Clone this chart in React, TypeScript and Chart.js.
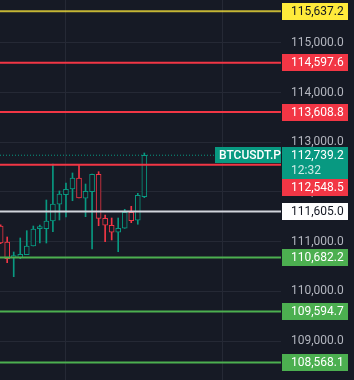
import { useEffect, useRef } from 'react';
import { Chart, registerables } from 'chart.js';

Chart.register(...registerables);

// ---- data ----
const opens = [111315, 110993, 110680, 110678, 110738, 110913, 111261, 111261, 111416, 111752, 111945, 112060, 112281, 111873, 112005, 112356, 111470, 111330, 111189, 111269, 111591, 111430, 111905];
const highs = [111340, 111094, 110792, 111074, 111221, 111315, 111335, 111838, 112563, 112020, 112180, 112382, 112553, 112160, 112362, 112408, 111537, 111476, 111476, 111651, 111712, 111973, 112784];
const lows = [110960, 110577, 110295, 110658, 110738, 110913, 110973, 110973, 111201, 111436, 111496, 111824, 111879, 111503, 110853, 111321, 111000, 111034, 110798, 111269, 111382, 111350, 111885];
const closes = [110973, 110658, 110692, 110746, 110913, 111255, 111281, 111416, 111758, 111959, 112054, 112281, 111879, 112014, 112356, 111470, 111330, 111189, 111269, 111591, 111422, 111933, 112739.2];

const yTickValues = [109000, 110000, 111000, 112000, 113000, 114000, 115000];
const timeGridIndices = [10, 34];

const levelPrices = [115637.2, 114597.6, 113608.8, 112548.5, 111605.0, 110682.2, 109594.7, 108568.1];
const levelKinds = ['high', 'resistance', 'resistance', 'resistance', 'pivot', 'support', 'support', 'support'];

const symbolName = 'BTCUSDT.P';
const lastPrice = 112739.2;
const countdown = '12:32';

// ---- view ----
const X_MIN = -0.1;
const X_MAX = 42.93;
const Y_MIN = 108216.5;
const Y_MAX = 115862.5;

const BG = '#161a25';
const GRID = '#252935';
const UP = '#089981';
const DOWN = '#f23645';
const AXIS_TEXT = '#b2b5be';
const FONT = 'Roboto, "Noto Sans", sans-serif';

const kindStyle: Record<string, { line: string; box: string; text: string }> = {
  high: { line: 'rgba(255,235,59,0.75)', box: '#ffeb3b', text: '#131722' },
  resistance: { line: '#f23645', box: '#f23645', text: '#ffffff' },
  pivot: { line: '#d1d4dc', box: '#ffffff', text: '#131722' },
  support: { line: '#4caf50', box: '#4caf50', text: '#ffffff' },
};

const fmt = (v: number) =>
  v.toLocaleString('en-US', { minimumFractionDigits: 1, maximumFractionDigits: 1 });

const labelsPlugin = {
  id: 'priceLabels',
  afterDraw(chart: any) {
    const { ctx, chartArea, scales } = chart;
    const y = scales.y;
    const boxX = chartArea.right + 1;
    const boxW = 66;
    const boxH = 17;
    ctx.save();
    ctx.font = `12px ${FONT}`;
    ctx.textBaseline = 'middle';
    ctx.textAlign = 'left';

    const py = y.getPixelForValue(lastPrice);
    const curTop = Math.round(py - 8);
    const curH = 32;
    const curBottom = curTop + curH;

    levelPrices.forEach((p, i) => {
      const st = kindStyle[levelKinds[i]];
      const ly = y.getPixelForValue(p);
      let top = Math.round(ly - boxH / 2);
      if (top < curBottom && top + boxH > curTop) {
        if (ly >= py) top = curBottom;
        else top = curTop - boxH;
      }
      ctx.fillStyle = st.box;
      ctx.fillRect(boxX, top, boxW, boxH);
      ctx.fillStyle = st.text;
      ctx.fillText(fmt(p), boxX + 9, top + boxH / 2 + 0.5);
    });

    ctx.fillStyle = UP;
    ctx.fillRect(boxX, curTop, boxW, curH);
    ctx.fillStyle = '#ffffff';
    ctx.fillText(fmt(lastPrice), boxX + 9, curTop + 8.5);
    ctx.fillStyle = 'rgba(255,255,255,0.8)';
    ctx.fillText(countdown, boxX + 9, curTop + 23.5);

    const sw = 66;
    ctx.fillStyle = UP;
    ctx.fillRect(chartArea.right - sw, curTop, sw, 16);
    ctx.fillStyle = '#ffffff';
    ctx.font = `500 12px ${FONT}`;
    ctx.fillText(symbolName, chartArea.right - sw + 4, curTop + 8.5);
    ctx.restore();
  },
};

export default function App() {
  const ref = useRef<HTMLCanvasElement>(null);
  useEffect(() => {
    document.body.style.margin = '0';
    document.body.style.background = BG;
    const canvas = ref.current!;
    const idx = opens.map((_, i) => i);
    const up = idx.map((i) => closes[i] >= opens[i]);
    const col = idx.map((i) => (up[i] ? UP : DOWN));

    const datasets: any[] = [
      {
        type: 'bar',
        data: idx.map((i) => ({ x: i, y: [lows[i], highs[i]] })),
        backgroundColor: col,
        borderWidth: 0,
        barThickness: 1,
        grouped: false,
        order: 3,
      },
      {
        type: 'bar',
        data: idx.map((i) => ({ x: i, y: [Math.min(opens[i], closes[i]), Math.max(opens[i], closes[i])] })),
        backgroundColor: BG,
        borderColor: col,
        borderWidth: 1,
        borderSkipped: false,
        barThickness: 5,
        minBarLength: 2,
        grouped: false,
        order: 2,
      },
      {
        type: 'line',
        data: [
          { x: X_MIN, y: lastPrice },
          { x: X_MAX, y: lastPrice },
        ],
        borderColor: UP,
        borderWidth: 1,
        borderDash: [1, 2],
        pointRadius: 0,
        order: 1,
      },
      ...levelPrices.map((p, i) => ({
        type: 'line',
        data: [
          { x: X_MIN, y: p },
          { x: X_MAX, y: p },
        ],
        borderColor: kindStyle[levelKinds[i]].line,
        borderWidth: 2,
        pointRadius: 0,
        order: 0,
      })),
    ];

    Chart.defaults.font.family = FONT;
    const zeroPad = (s: any) => {
      s.paddingTop = 0;
      s.paddingBottom = 0;
      s.paddingLeft = 0;
      s.paddingRight = 0;
    };
    const chart = new Chart(canvas, {
      type: 'bar',
      data: { datasets },
      plugins: [labelsPlugin],
      options: {
        animation: false,
        responsive: false,
        layout: { padding: 0, autoPadding: false },
        plugins: { legend: { display: false }, tooltip: { enabled: false } },
        scales: {
          x: {
            type: 'linear',
            min: X_MIN,
            max: X_MAX,
            offset: false,
            afterBuildTicks: (s: any) => {
              s.ticks = timeGridIndices.map((v) => ({ value: v }));
            },
            afterFit: (s: any) => {
              s.height = 0;
              zeroPad(s);
            },
            ticks: { display: false },
            grid: { color: GRID, drawTicks: false, offset: false },
            border: { display: false },
          },
          y: {
            type: 'linear',
            position: 'right',
            min: Y_MIN,
            max: Y_MAX,
            afterBuildTicks: (s: any) => {
              s.ticks = yTickValues.map((v) => ({ value: v }));
            },
            afterFit: (s: any) => {
              s.width = 73;
              zeroPad(s);
            },
            ticks: {
              color: AXIS_TEXT,
              padding: 10,
              font: { size: 12, family: FONT },
              callback: (v: any) => fmt(Number(v)),
            },
            grid: { color: GRID, drawTicks: false },
            border: { display: false },
          },
        },
      } as any,
    });
    return () => chart.destroy();
  }, []);
  return (
    <div style={{ width: 354, height: 380, background: BG }}>
      <canvas ref={ref} width={354} height={380} style={{ display: 'block' }} />
    </div>
  );
}
